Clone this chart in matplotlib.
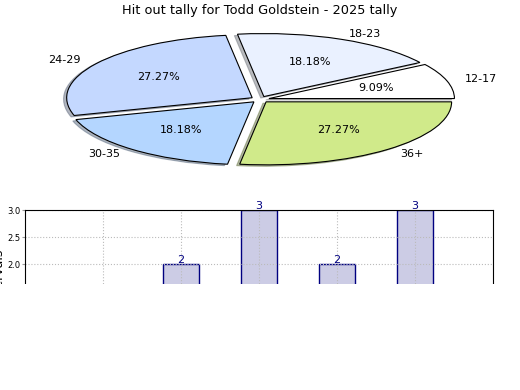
import matplotlib
matplotlib.use('Agg')
import matplotlib.pyplot as plt
from matplotlib.patches import Rectangle

# data
age_groups = ['12-17', '18-23', '24-29', '30-35', '36+']
hitouts = [1, 2, 3, 2, 3]
slice_colors = ['#ffffff', '#eaf1ff', '#c4d8ff', '#b4d6ff', '#d0ea8a']

fig = plt.figure(figsize=(5.2, 3.9), dpi=100)

# pie on top, squashed
ax1 = fig.add_axes([0.054, 0.543, 0.892, 0.404])
ax1.pie(hitouts, labels=age_groups, colors=slice_colors, autopct='%.2f%%',
        explode=[0.05] * len(hitouts),
        shadow={'ox': -0.012, 'oy': -0.016, 'shade': 0.5},
        startangle=0,
        wedgeprops={'edgecolor': 'black', 'linewidth': 0.8},
        textprops={'fontsize': 8})
ax1.set_aspect('auto')
ax1.set_title('Hit out tally for Todd Goldstein - 2025 tally', fontsize=9.3, pad=5)

# bars below
ax2 = fig.add_axes([0.048, 0.046, 0.9, 0.415])
x = range(len(hitouts))
ax2.bar(x, hitouts, width=0.46, color='navy', alpha=0.2)
ax2.bar(x, hitouts, width=0.46, fill=False, edgecolor='navy', linewidth=1)
for xi, v in zip(x, hitouts):
    ax2.annotate(str(v), (xi, v), xytext=(0, 3), textcoords='offset points',
                 ha='center', va='center', color='navy', fontsize=8)
ax2.set_xlim(-1, 5)
ax2.set_ylim(0, 3)
ax2.set_yticks([0, 0.5, 1.0, 1.5, 2.0, 2.5, 3.0])
ax2.set_xticks(list(x))
ax2.set_xticklabels(age_groups)
ax2.tick_params(labelsize=6, length=2, pad=1.5, color='#999999')
ax2.grid(True, linestyle=':', color='#bbbbbb')
ax2.set_ylabel('Intervals', fontsize=9)
ax2.yaxis.set_label_coords(-0.043, 0.6)

# the lower part of the figure is blanked out in the original
fig.patches.append(Rectangle((0, 0), 1, 0.272, transform=fig.transFigure,
                             facecolor='white', edgecolor='none', zorder=10))

fig.savefig('out.png')
